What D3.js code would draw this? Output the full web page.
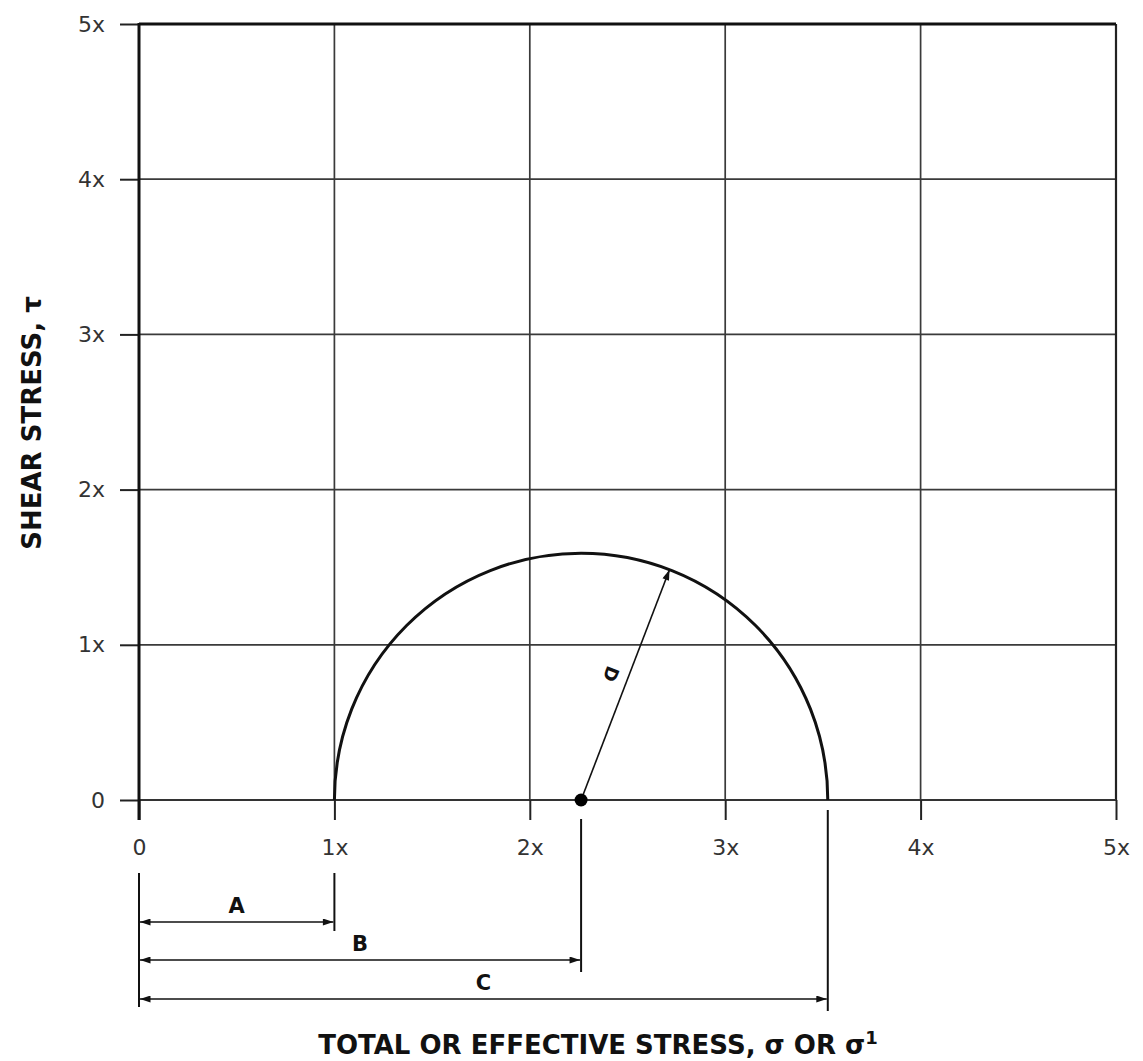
<!DOCTYPE html>
<html>
<head>
<meta charset="utf-8">
<script src="https://cdn.jsdelivr.net/npm/d3@7"></script>
<style>
  html, body { margin: 0; padding: 0; background: #fff; }
  svg { display: block; }
</style>
</head>
<body>
<svg id="chart" width="1143" height="1061"></svg>
<script>
// ---------- data ----------
const xTickValues = [0, 1, 2, 3, 4, 5];
const xTickLabels = ["0", "1x", "2x", "3x", "4x", "5x"];
const yTickValues = [0, 1, 2, 3, 4, 5];
const yTickLabels = ["0", "1x", "2x", "3x", "4x", "5x"];
const sigmaMinor = 1.0;      // σ3 (left end of circle)  -> dimension A
const sigmaMajor = 3.525;    // σ1 (right end of circle) -> dimension C
const dimensionNames = ["A", "B", "C"];
const radiusLabel = "D";
const radiusAngleDeg = 69;   // direction of radius D above horizontal
const xTitle = "TOTAL OR EFFECTIVE STRESS, σ OR σ";
const xTitleSup = "1";
const yTitle = "SHEAR STRESS, τ";

// ---------- setup ----------
const svg = d3.select("#chart");
const x = d3.scaleLinear().domain([0, 5]).range([139, 1116]);
const y = d3.scaleLinear().domain([0, 5]).range([800, 24]);
const FONT = "'DejaVu Sans', Verdana, sans-serif";

const center = (sigmaMinor + sigmaMajor) / 2;
const dimValues = [sigmaMinor, center, sigmaMajor];

// arrow markers
const defs = svg.append("defs");
defs.append("marker")
  .attr("id", "arrow")
  .attr("viewBox", "0 0 12 8")
  .attr("refX", 12).attr("refY", 4)
  .attr("markerWidth", 12).attr("markerHeight", 7)
  .attr("markerUnits", "userSpaceOnUse")
  .attr("orient", "auto-start-reverse")
  .append("path").attr("d", "M0,0 L12,4 L0,8 Z").attr("fill", "#111");

// ---------- grid ----------
const grid = svg.append("g");
grid.selectAll("line.v").data(xTickValues.filter(v => v > 0 && v < 5))
  .join("line").attr("class", "v")
  .attr("x1", d => x(d)).attr("x2", d => x(d))
  .attr("y1", y(0)).attr("y2", y(5))
  .attr("stroke", "#3a3a3a").attr("stroke-width", 1.7);
grid.selectAll("line.h").data(yTickValues.filter(v => v > 0 && v < 5))
  .join("line").attr("class", "h")
  .attr("x1", x(0)).attr("x2", x(5))
  .attr("y1", d => y(d)).attr("y2", d => y(d))
  .attr("stroke", "#3a3a3a").attr("stroke-width", 1.7);

// borders
svg.append("line").attr("x1", x(5)).attr("x2", x(5)).attr("y1", y(0)).attr("y2", y(5))
  .attr("stroke", "#222").attr("stroke-width", 2.2);
svg.append("line").attr("x1", x(0)).attr("x2", x(5)).attr("y1", y(5)).attr("y2", y(5))
  .attr("stroke", "#111").attr("stroke-width", 2.8);
svg.append("line").attr("x1", x(0)).attr("x2", x(5)).attr("y1", y(0)).attr("y2", y(0))
  .attr("stroke", "#333").attr("stroke-width", 2);

// ---------- axes ----------
const xAxis = svg.append("g")
  .attr("transform", `translate(0,${y(0)})`)
  .call(d3.axisBottom(x).tickValues(xTickValues)
    .tickFormat((d, i) => xTickLabels[i]).tickSize(20).tickPadding(19));
const yAxis = svg.append("g")
  .attr("transform", `translate(${x(0)},0)`)
  .call(d3.axisLeft(y).tickValues(yTickValues)
    .tickFormat((d, i) => yTickLabels[i]).tickSize(19).tickPadding(15));
[xAxis, yAxis].forEach(g => {
  g.select(".domain").remove();
  g.selectAll(".tick line").attr("stroke", "#222").attr("stroke-width", 2);
  g.selectAll(".tick text").attr("font-family", FONT).attr("font-size", 22)
    .attr("fill", "#333");
});
// left axis (thick)
svg.append("line").attr("x1", x(0)).attr("x2", x(0)).attr("y1", y(0) + 20).attr("y2", y(5) - 1)
  .attr("stroke", "#111").attr("stroke-width", 3);

// ---------- Mohr circle (semicircle in screen space) ----------
const cx = x(center), cy = y(0);
const rPx = x(sigmaMajor) - cx;
const arc = d3.path();
arc.moveTo(x(sigmaMinor), cy);
arc.arc(cx, cy, rPx, Math.PI, 2 * Math.PI, false);
svg.append("path").attr("d", arc.toString())
  .attr("fill", "none").attr("stroke", "#111").attr("stroke-width", 3);

// radius D
const a = radiusAngleDeg * Math.PI / 180;
const ex = cx + rPx * Math.cos(a), ey = cy - rPx * Math.sin(a);
svg.append("line").attr("x1", cx).attr("y1", cy).attr("x2", ex).attr("y2", ey)
  .attr("stroke", "#111").attr("stroke-width", 1.6).attr("marker-end", "url(#arrow)");
svg.append("circle").attr("cx", cx).attr("cy", cy).attr("r", 6.5).attr("fill", "#000");
// D label
const t = 0.52, off = 17;
const lx = cx + (ex - cx) * t - off * Math.sin(a);
const ly = cy + (ey - cy) * t - off * Math.cos(a);
svg.append("text").attr("x", 0).attr("y", 0)
  .attr("transform", `translate(${lx},${ly}) rotate(${180 - radiusAngleDeg})`)
  .attr("text-anchor", "middle").attr("dominant-baseline", "central")
  .attr("font-family", FONT).attr("font-size", 18).attr("font-weight", "bold")
  .attr("fill", "#111").text(radiusLabel);

// ---------- dimension lines ----------
const extTop = [873, 873, 819, 810];
const extBottom = [1007, 931, 972, 1011];
const extValues = [0, sigmaMinor, center, sigmaMajor];
svg.selectAll("line.ext").data(extValues).join("line").attr("class", "ext")
  .attr("x1", d => x(d)).attr("x2", d => x(d))
  .attr("y1", (d, i) => extTop[i]).attr("y2", (d, i) => extBottom[i])
  .attr("stroke", "#111").attr("stroke-width", 2);
const dimY = [922, 960, 999];
svg.selectAll("line.dim").data(dimValues).join("line").attr("class", "dim")
  .attr("x1", x(0) + 1).attr("x2", d => x(d) - 1)
  .attr("y1", (d, i) => dimY[i]).attr("y2", (d, i) => dimY[i])
  .attr("stroke", "#111").attr("stroke-width", 1.6)
  .attr("marker-start", "url(#arrow)").attr("marker-end", "url(#arrow)");
svg.selectAll("text.dim").data(dimValues).join("text").attr("class", "dim")
  .attr("x", d => (x(0) + x(d)) / 2).attr("y", (d, i) => dimY[i] - 9)
  .attr("text-anchor", "middle")
  .attr("font-family", FONT).attr("font-size", 21).attr("font-weight", "bold")
  .attr("fill", "#111").text((d, i) => dimensionNames[i]);

// ---------- titles ----------
const xt = svg.append("text").attr("x", 598).attr("y", 1054)
  .attr("text-anchor", "middle")
  .attr("font-family", FONT).attr("font-size", 26).attr("font-weight", "bold")
  .attr("fill", "#111");
xt.append("tspan").text(xTitle);
xt.append("tspan").attr("dy", -10).attr("font-size", 18).text(xTitleSup);

svg.append("text")
  .attr("transform", "translate(41,423) rotate(-90)")
  .attr("text-anchor", "middle")
  .attr("font-family", FONT).attr("font-size", 26).attr("font-weight", "bold")
  .attr("fill", "#111").text(yTitle);
</script>
</body>
</html>
